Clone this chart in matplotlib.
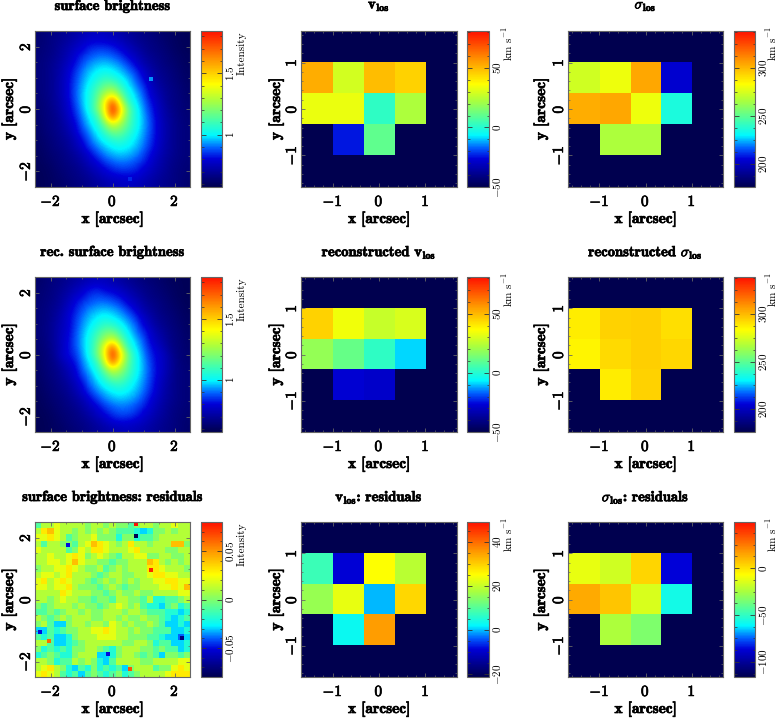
import numpy as np
import matplotlib
matplotlib.use("Agg")
from matplotlib import pyplot as plt
from matplotlib import patheffects
from matplotlib.colors import LinearSegmentedColormap
from matplotlib.ticker import FixedLocator, FixedFormatter, MultipleLocator

nan = float("nan")
W, H = 778, 718

# surface brightness, top row of the picture first
sb = [
[.63,.65,.665,.68,.70,.72,.74,.76,.77,.76,.745,.725,.705,.685,.665,.65,.635,.62,.61,.60,.59],
[.635,.65,.67,.69,.715,.745,.78,.80,.805,.80,.79,.77,.735,.705,.68,.665,.65,.63,.615,.60,.595],
[.64,.655,.67,.705,.735,.775,.805,.845,.86,.86,.84,.805,.775,.735,.70,.67,.655,.64,.62,.605,.595],
[.645,.66,.68,.71,.75,.80,.85,.885,.91,.915,.897,.865,.81,.77,.725,.69,.67,.65,.63,.615,.60],
[.65,.665,.69,.725,.77,.82,.885,.935,.96,.97,.955,.925,.87,.81,.75,.71,.68,.655,.64,.62,.605],
[.65,.665,.695,.73,.79,.85,.92,.97,1.0,1.02,1.0,.97,.925,.865,.795,.74,.695,.67,.65,.63,.61],
[.65,.665,.695,.74,.795,.865,.94,.99,1.04,1.09,1.07,1.02,.97,.91,.82,.76,.705,.68,.655,.635,.615],
[.65,.665,.695,.74,.80,.88,.955,1.02,1.10,1.18,1.20,1.10,1.0,.94,.865,.79,.73,.69,.665,.645,.62],
[.645,.665,.695,.74,.80,.885,.965,1.04,1.15,1.28,1.36,1.20,1.05,.975,.905,.80,.75,.70,.67,.65,.625],
[.64,.66,.69,.73,.79,.875,.965,1.04,1.18,1.42,1.72,1.36,1.10,1.0,.93,.83,.77,.71,.67,.655,.63],
[.635,.655,.68,.725,.78,.855,.95,1.04,1.20,1.42,1.84,1.52,1.20,1.04,.95,.855,.78,.725,.68,.655,.635],
[.63,.655,.67,.71,.77,.83,.93,1.0,1.10,1.36,1.72,1.42,1.18,1.04,.965,.875,.79,.73,.69,.66,.64],
[.625,.65,.67,.70,.75,.80,.905,.975,1.05,1.20,1.36,1.28,1.15,1.04,.965,.885,.80,.74,.695,.665,.645],
[.62,.645,.665,.69,.73,.79,.865,.94,1.0,1.10,1.20,1.18,1.10,1.02,.955,.88,.80,.74,.695,.665,.65],
[.615,.635,.655,.68,.705,.76,.82,.91,.97,1.02,1.07,1.09,1.04,.99,.94,.865,.795,.74,.695,.665,.65],
[.61,.63,.65,.67,.695,.74,.795,.865,.925,.97,1.0,1.02,1.0,.97,.92,.85,.79,.73,.695,.665,.65],
[.605,.62,.64,.655,.68,.71,.75,.81,.87,.925,.955,.97,.96,.935,.885,.82,.77,.725,.69,.665,.65],
[.60,.615,.63,.65,.67,.69,.725,.77,.81,.865,.897,.915,.91,.885,.85,.80,.75,.71,.68,.66,.645],
[.595,.605,.62,.64,.655,.67,.70,.735,.775,.805,.84,.86,.86,.845,.805,.775,.735,.705,.67,.655,.64],
[.595,.60,.615,.63,.65,.665,.68,.705,.735,.77,.79,.80,.805,.80,.78,.745,.715,.69,.67,.65,.635],
[.59,.60,.61,.62,.635,.65,.665,.685,.705,.725,.745,.76,.77,.76,.74,.72,.70,.68,.665,.65,.63],
]

sb_rec = [
[.62,.64,.655,.67,.69,.71,.73,.75,.76,.76,.735,.715,.695,.675,.655,.64,.63,.615,.60,.595,.59],
[.63,.645,.665,.68,.71,.74,.775,.81,.82,.79,.78,.76,.725,.70,.675,.66,.64,.625,.61,.60,.59],
[.635,.65,.665,.70,.73,.78,.81,.85,.865,.85,.83,.80,.77,.73,.695,.665,.65,.635,.615,.60,.59],
[.64,.655,.675,.705,.755,.81,.855,.885,.905,.91,.89,.86,.80,.765,.72,.685,.665,.645,.625,.61,.595],
[.645,.66,.685,.72,.78,.83,.885,.93,.955,.965,.95,.92,.865,.805,.745,.705,.675,.65,.635,.615,.60],
[.645,.66,.69,.735,.79,.85,.915,.965,.995,1.015,.995,.965,.92,.86,.79,.735,.69,.665,.645,.625,.605],
[.645,.665,.70,.745,.79,.86,.935,.985,1.035,1.085,1.065,1.015,.965,.905,.815,.76,.705,.675,.65,.63,.61],
[.645,.665,.70,.75,.795,.875,.95,1.015,1.095,1.175,1.195,1.095,.995,.935,.86,.795,.735,.695,.66,.64,.615],
[.64,.66,.70,.755,.805,.88,.96,1.035,1.145,1.27,1.35,1.195,1.045,.97,.90,.805,.755,.71,.665,.645,.62],
[.635,.655,.695,.75,.81,.875,.96,1.035,1.175,1.41,1.70,1.35,1.095,.995,.925,.83,.78,.73,.67,.65,.625],
[.63,.65,.685,.76,.81,.85,.945,1.035,1.195,1.41,1.82,1.50,1.195,1.035,.945,.85,.80,.76,.69,.65,.63],
[.625,.65,.67,.73,.78,.825,.925,.995,1.095,1.35,1.70,1.41,1.175,1.035,.96,.87,.80,.76,.70,.655,.635],
[.62,.645,.665,.70,.75,.795,.90,.97,1.045,1.195,1.35,1.27,1.145,1.035,.96,.88,.805,.76,.70,.66,.64],
[.615,.64,.66,.69,.73,.785,.86,.935,.995,1.095,1.195,1.175,1.095,1.015,.95,.875,.80,.75,.69,.66,.645],
[.61,.63,.65,.675,.705,.755,.815,.905,.965,1.015,1.065,1.085,1.035,.985,.935,.86,.79,.735,.69,.66,.645],
[.605,.625,.645,.665,.69,.735,.79,.86,.92,.965,.995,1.015,.995,.965,.915,.845,.785,.725,.69,.66,.645],
[.60,.615,.635,.65,.675,.705,.745,.805,.865,.92,.95,.965,.955,.93,.88,.815,.765,.72,.685,.66,.645],
[.595,.61,.625,.645,.665,.685,.72,.765,.805,.86,.892,.91,.905,.88,.845,.795,.745,.705,.675,.655,.64],
[.59,.60,.615,.635,.65,.665,.695,.73,.77,.81,.85,.875,.875,.85,.80,.77,.73,.70,.665,.65,.635],
[.59,.595,.61,.625,.645,.66,.675,.70,.73,.765,.80,.815,.81,.795,.775,.74,.71,.685,.665,.645,.63],
[.585,.595,.605,.615,.63,.645,.66,.68,.70,.72,.74,.75,.76,.75,.735,.715,.695,.675,.66,.645,.625],
]

# residuals in hundredths
sb_res = [
[-1,1,1,2,1,1,1,1,0,1,1,0,1,0,0,-1,0,1,1,0,1,1,2,1,1],
[1,3,4,2,1,1,0,1,0,1,0,1,0,-1,-1,-1,-2,-3,-2,0,0,1,0,1,1],
[2,2,3,2,1,-1,0,1,1,2,0,0,0,-2,0,0,-2,-1,-1,0,1,1,1,1,1],
[1,-1,1,1,0,0,-1,1,2,4,3,2,1,0,1,3,1,1,0,1,1,1,4,4,0],
[2,1,1,1,1,-1,0,2,1,3,3,2,1,1,1,2,3,1,1,1,1,0,0,1,1],
[1,1,2,1,1,2,3,2,0,1,2,1,0,-1,1,1,2,2,0,0,1,1,0,0,1],
[1,1,2,2,1,2,4,2,1,1,0,0,-1,0,0,1,1,1,4,3,1,0,1,0,1],
[0,1,1,2,2,3,2,1,0,0,1,-1,0,1,0,1,1,1,3,3,2,1,1,1,0],
[1,2,2,1,2,3,1,1,1,0,-1,0,1,1,0,0,1,1,2,3,3,2,2,1,1],
[2,3,1,2,3,2,1,1,0,-1,0,1,0,1,0,1,0,1,1,2,2,3,3,2,2],
[2,2,1,2,2,3,1,0,0,0,-1,0,1,0,-1,0,0,1,1,1,2,2,3,2,4],
[1,1,1,1,3,2,1,1,1,0,0,-1,0,1,0,0,1,0,0,1,1,1,1,2,2],
[1,1,0,1,2,1,1,0,0,-1,0,0,-1,1,1,0,0,-1,1,-2,-2,-1,-1,0,1],
[0,-1,0,1,1,1,0,1,0,0,-1,0,1,2,1,0,1,-1,-2,-2,-3,-1,0,-2,-1],
[-1,-1,0,-1,0,1,1,0,1,0,0,1,1,1,0,1,1,0,-1,-1,-1,-2,-2,-3,-2],
[1,0,-1,0,1,0,1,1,1,0,0,1,1,0,1,0,0,1,0,0,-1,-2,-3,-2,-1],
[0,1,-1,-3,-3,0,1,1,0,1,1,0,2,1,0,1,0,0,1,0,-1,-3,-3,-2,-3],
[-3,-3,-1,-2,-1,0,0,1,1,2,2,3,2,1,1,0,1,0,0,-1,-1,-1,-3,-3,-2],
[-1,-2,-1,-3,-3,-2,0,1,1,1,2,2,2,1,1,0,0,0,-1,-1,-2,-3,-3,-4,-3],
[1,1,-1,-3,-3,-2,-1,0,1,1,1,1,1,1,0,0,1,1,0,-2,-1,-1,-3,-3,-2],
[0,-2,-1,-2,-1,-2,0,0,1,1,0,-1,-2,0,1,1,1,0,0,-1,0,-1,-1,-3,-2],
[-2,-1,0,-1,-2,-2,0,1,1,1,-3,-3,-2,0,1,1,0,-1,0,-1,-3,0,0,-1,0],
[1,1,0,-2,-1,-1,1,0,1,0,-2,-3,-1,1,1,1,1,0,0,1,1,1,1,2,2],
[1,2,3,1,0,-2,-3,-1,-2,0,-2,-1,-2,-1,-3,0,1,1,1,-1,0,0,2,3,2],
[2,3,2,1,-1,-2,-1,-3,-1,0,-1,-2,-1,0,-2,-1,0,1,1,1,1,2,3,3,3],
]

# single deviant pixels
sb_spec_x = [1.25, 0.55]
sb_spec_y = [0.95, -2.25]
sb_spec_v = [0.93, 0.84]
res_spec_x = [0.75, 0.75, 1.25, -2.05, 0.55, -1.45, 2.25, -2.35, -0.15]
res_spec_y = [2.45, 2.05, 0.95, -1.35, -2.25, 1.75, -1.25, -1.05, -1.75]
res_spec_v = [0.08, -0.08, 0.075, 0.06, 0.065, -0.05, -0.07, -0.05, -0.05]

vlos = [[nan]*5,
        [52, 29, 49, 45, nan],
        [33, 33, 2, 23, nan],
        [nan, -24, 10, nan, nan],
        [nan]*5]
vlos_rec = [[nan]*5,
            [45, 34, 27, 30, nan],
            [19, 11, 2, -9, nan],
            [nan, -27, -29, nan, nan],
            [nan]*5]
vlos_res = [[nan]*5,
            [7.5, -9, 25, 19, nan],
            [16, 23, -0.4, 29, nan],
            [nan, 3, 35, nan, nan],
            [nan]*5]
sig = [[nan]*5,
       [274, 280, 304, 204, nan],
       [303, 304, 280, 236, nan],
       [nan, 267, 267, nan, nan],
       [nan]*5]
sig_rec = [[nan]*5,
           [288, 294, 295, 291, nan],
           [286, 292, 295, 293, nan],
           [nan, 288, 294, nan, nan],
           [nan]*5]
sig_res = [[nan]*5,
           [-12, -17, 3, -86, nan],
           [13, 7, -15, -57, nan],
           [nan, -24, -34, nan, nan],
           [nan]*5]

titles = [["surface brightness", r"$\mathbf{v_{los}}$", r"$\sigma_{\mathbf{los}}$"],
          ["rec. surface brightness", r"reconstructed $\mathbf{v_{los}}$", r"reconstructed $\sigma_{\mathbf{los}}$"],
          ["surface brightness: residuals", r"$\mathbf{v_{los}}$: residuals", r"$\sigma_{\mathbf{los}}$: residuals"]]
limits = [[(0.574, 1.844), (-50, 81), (176, 339)],
          [(0.574, 1.844), (-50, 81), (176, 339)],
          [(-0.08, 0.08), (-21.4, 49), (-116, 49)]]
cb_ticks = [[[1, 1.5], [-50, 0, 50], [200, 250, 300]],
            [[1, 1.5], [-50, 0, 50], [200, 250, 300]],
            [[-0.05, 0, 0.05], [-20, 0, 20, 40], [-100, -50, 0]]]
cb_minor = [[0.1, 10, 12.5], [0.1, 10, 12.5], [0.01, 5, 12.5]]
cb_labels = ["Intensity", r"km$\ $s$^{-1}$", r"km$\ $s$^{-1}$"]

plt.rcParams["font.family"] = "cmb10"
plt.rcParams["mathtext.fontset"] = "cm"
plt.rcParams["axes.formatter.use_mathtext"] = True

cmap = LinearSegmentedColormap.from_list("pg", [
    (0.0, "#00004f"), (0.18, "#0000d8"), (0.25, "#0060ff"), (0.29, "#00a8ff"), (0.33, "#00f8ff"),
    (0.42, "#40ffb0"), (0.55, "#a8ff40"), (0.66, "#ffff00"), (0.8, "#ffa000"),
    (1.0, "#ff1000")], N=256)
navy = "#00004f"
edge = "#666666"
heavy = [patheffects.withStroke(linewidth=0.5, foreground="black")]

col_x = [(35, 190), (301, 457), (568, 723)]
bar_x = [(201, 222), (467, 489), (734, 755)]
row_y = [(31, 187), (277, 432), (522, 677)]
ylab_x = [9, 276, 541]
lab_off = [20, 19, 17]


def box(x, y):
    return [x[0]/W, 1-y[1]/H, (x[1]-x[0])/W, (y[1]-y[0])/H]


def fmt(v):
    return r"$\mathbf{" + ("%g" % v) + "}$"


def fmt_thin(v):
    return "$" + ("%g" % v) + "$"


fig = plt.figure(figsize=(W/100, H/100), dpi=100)
grids = [[sb, vlos, sig], [sb_rec, vlos_rec, sig_rec], [np.array(sb_res)/100, vlos_res, sig_res]]

for r in range(3):
    for c in range(3):
        ax = fig.add_axes(box(col_x[c], row_y[r]))
        lo, hi = limits[r][c]
        ax.set_facecolor(navy)
        if c == 0:
            lim = 2.5
            interp = "nearest" if r == 2 else "bicubic"
            im = ax.imshow(np.array(grids[r][c]), cmap=cmap, vmin=lo, vmax=hi, origin="upper",
                           extent=(-2.5, 2.5, -2.5, 2.5), interpolation=interp, aspect="auto")
            if r == 0:
                ax.scatter(sb_spec_x, sb_spec_y, c=sb_spec_v, cmap=cmap, vmin=lo, vmax=hi,
                           marker="s", s=8, linewidths=0)
            if r == 2:
                ax.scatter(res_spec_x, res_spec_y, c=res_spec_v, cmap=cmap, vmin=lo, vmax=hi,
                           marker="s", s=8, linewidths=0)
            ticks = [-2, 0, 2]
            minor = 0.5
        else:
            lim = 1.68
            im = ax.imshow(np.array(grids[r][c], dtype=float), cmap=cmap, vmin=lo, vmax=hi, origin="upper",
                           extent=(-5/3, 5/3, -5/3, 5/3), interpolation="nearest", aspect="auto")
            ticks = [-1, 0, 1]
            minor = 0.2
        ax.set_xlim(-lim, lim)
        ax.set_ylim(-lim, lim)
        ax.xaxis.set_major_locator(FixedLocator(ticks))
        ax.xaxis.set_major_formatter(FixedFormatter([fmt(t) for t in ticks]))
        ax.yaxis.set_major_locator(FixedLocator(ticks))
        ax.yaxis.set_major_formatter(FixedFormatter([fmt(t) for t in ticks]))
        ax.xaxis.set_minor_locator(MultipleLocator(minor))
        ax.yaxis.set_minor_locator(MultipleLocator(minor))
        ax.tick_params(which="major", direction="in", length=3, width=0.6, color=edge,
                       top=True, right=True, labelsize=11)
        ax.tick_params(which="minor", direction="in", length=1.5, width=0.5, color=edge,
                       top=True, right=True)
        ax.tick_params(axis="x", which="major", pad=5)
        ax.tick_params(axis="y", which="major", pad=1.5)
        for t in ax.get_yticklabels():
            t.set_rotation(90)
            t.set_va("center")
            t.set_path_effects(heavy)
        for t in ax.get_xticklabels():
            t.set_path_effects(heavy)
        for s in ax.spines.values():
            s.set_color(edge)
            s.set_linewidth(0.8)

        cx = (col_x[c][0]+col_x[c][1])/2
        fig.text(cx/W, 1-(row_y[r][0]-25)/H, titles[r][c], ha="center", va="center", fontsize=10.5,
                 path_effects=heavy)
        fig.text(cx/W, 1-(row_y[r][1]+32)/H, "x [arcsec]", ha="center", va="center", fontsize=11,
                 path_effects=heavy)
        fig.text(ylab_x[c]/W, 1-((row_y[r][0]+row_y[r][1])/2)/H, "y [arcsec]", ha="center", va="center",
                 rotation=90, fontsize=11, path_effects=heavy)

        cax = fig.add_axes(box(bar_x[c], row_y[r]))
        cb = fig.colorbar(im, cax=cax)
        cb.set_ticks(cb_ticks[r][c])
        cb.set_ticklabels([fmt_thin(t) for t in cb_ticks[r][c]])
        cax.yaxis.set_minor_locator(MultipleLocator(cb_minor[r][c]))
        cax.tick_params(which="major", direction="in", length=3.5, width=0.6, color="#333333",
                        left=True, right=True, labelsize=8, pad=1.5)
        cax.tick_params(which="minor", direction="in", length=1.8, width=0.5, color="#333333",
                        left=True, right=True)
        for t in cax.get_yticklabels():
            t.set_rotation(90)
            t.set_va("center")
        cb.outline.set_edgecolor(edge)
        cb.outline.set_linewidth(0.8)
        lab_y = row_y[r][0] + (22 if c == 0 else 13)
        fig.text((bar_x[c][1]+lab_off[c])/W, 1-lab_y/H, cb_labels[c], rotation=90, ha="center", va="center",
                 fontsize=8, family="cmr10")

fig.savefig("out.png", dpi=100)
